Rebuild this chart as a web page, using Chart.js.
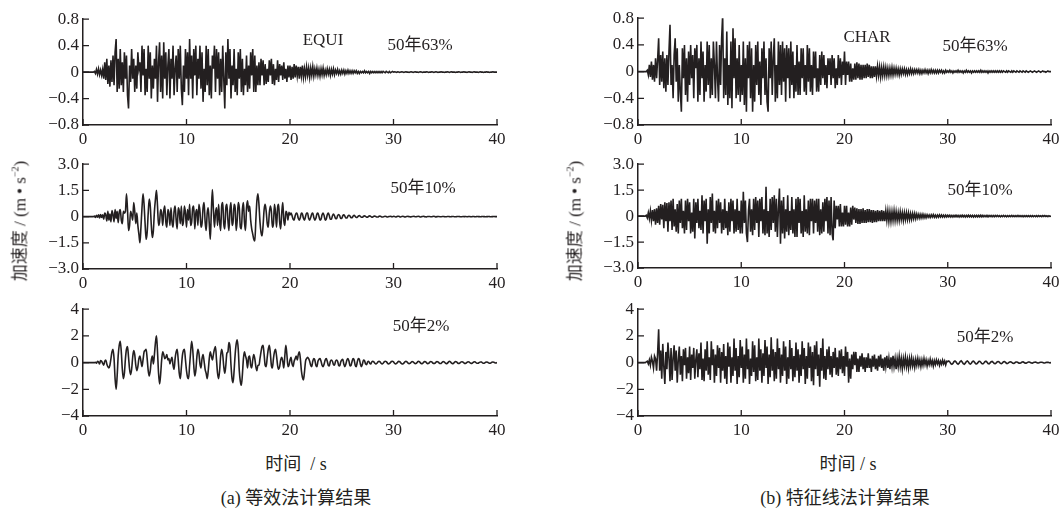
<!DOCTYPE html>
<html>
<head>
<meta charset="utf-8">
<script src="https://cdn.jsdelivr.net/npm/chart.js"></script>
<style>
  body {
    margin: 0;
    width: 1064px;
    height: 511px;
    position: relative;
    overflow: hidden;
    background: #fff;
    color: #231f20;
    font-family: "Liberation Serif", "Noto Sans CJK SC", serif;
  }
  canvas {
    position: absolute;
  }
  .txt {
    position: absolute;
    font-size: 17px;
    white-space: nowrap;
    transform: translate(-50%, -50%);
  }
  .big {
    font-size: 18px;
  }
  .ytitle {
    position: absolute;
    font-size: 17px;
    white-space: nowrap;
    transform: translate(-50%, -50%) rotate(-90deg);
  }
  .ytitle sup {
    font-size: 10px;
  }
</style>
</head>
<body>
<canvas id="c0"></canvas>
<canvas id="c1"></canvas>
<canvas id="c2"></canvas>
<canvas id="c3"></canvas>
<canvas id="c4"></canvas>
<canvas id="c5"></canvas>

<div class="txt" style="left:323px;top:40px">EQUI</div>
<div class="txt" style="left:420px;top:42px">50年63%</div>
<div class="txt" style="left:423px;top:185px">50年10%</div>
<div class="txt" style="left:421px;top:323px">50年2%</div>
<div class="txt" style="left:867px;top:37px">CHAR</div>
<div class="txt" style="left:975px;top:43px">50年63%</div>
<div class="txt" style="left:980px;top:187px">50年10%</div>
<div class="txt" style="left:985px;top:334px">50年2%</div>

<div class="ytitle" style="left:18px;top:221px">加速度 / (m • s<sup>−2</sup>)</div>
<div class="ytitle" style="left:573px;top:221px">加速度 / (m • s<sup>−2</sup>)</div>
<div class="txt big" style="left:296px;top:462px">时间&nbsp;&nbsp;/ s</div>
<div class="txt big" style="left:848px;top:462px">时间 / s</div>
<div class="txt big" style="left:296px;top:496px">(a) 等效法计算结果</div>
<div class="txt big" style="left:845px;top:496px">(b) 特征线法计算结果</div>

<script>
// sampling step of the records (s)
const DT = 0.1;
const xTicks = [0, 10, 20, 30, 40];
const yTicks63 = [-0.8, -0.4, 0, 0.4, 0.8];
const yTicks10 = [-3, -1.5, 0, 1.5, 3];
const yTicks2 = [-4, -2, 0, 2, 4];

// (a) equivalent method, 50 years 63%
const equi63 = [
  0,0,0,0,0,0,0,0,0,0,
  0,.01,-.02,.04,-.03,.05,-.04,.03,-.05,.04,
  -.1,.15,-.12,.2,-.18,.1,-.22,.18,-.15,.25,
  -.2,.3,.5,-.3,.2,-.25,.35,-.2,.15,-.3,
  .3,-.1,.25,-.35,-.55,.1,-.15,.35,-.1,.2,
  -.3,.1,-.25,.3,.05,.15,-.3,.4,-.05,.35,
  -.35,.05,-.3,.4,-.1,.3,-.4,.1,-.25,.2,
  -.1,.4,-.45,.15,.45,-.3,.25,-.4,.45,-.1,
  .3,-.35,.1,.35,-.4,.2,-.1,.4,-.35,.05,
  .25,-.3,.35,-.1,.4,-.25,-.5,.1,-.3,.35,
  -.1,.3,-.35,.5,-.1,.25,-.4,.35,-.05,.4,
  -.35,.2,-.1,.4,-.25,.3,-.45,.05,-.3,.4,
  -.2,.35,-.35,.1,-.4,.25,.05,.4,-.3,.35,
  -.1,.3,-.35,.2,-.3,.4,-.1,-.55,.3,-.2,
  .5,-.1,.35,-.4,.1,-.2,.35,-.3,.05,-.35,
  .3,-.1,.35,-.3,.2,-.35,.05,-.2,.25,-.3,
  .1,-.25,.3,-.05,.35,-.3,.25,-.3,.1,-.2,
  .15,-.2,.2,-.05,.18,-.2,.12,-.18,.05,-.15,
  .18,-.05,.2,-.18,.12,-.2,.05,-.12,.18,-.15,
  .12,-.05,.1,-.12,.15,-.1,.05,-.15,.1,-.08,
  .1,-.12,.08,-.1,.12,-.08,.1,-.06,.08,-.1,
  .08,-.06,.1,-.08,.05,-.07,.08,-.05,.06,-.08,
  .06,-.05,.08,-.06,.05,-.04,.06,-.05,.04,-.06,
  .05,-.04,.06,-.05,.03,-.04,.05,-.03,.04,-.05,
  .04,-.03,.05,-.04,.03,-.02,.04,-.03,.02,-.03,
  .03,-.02,.03,-.03,.02,-.02,.03,-.02,.02,-.02,
  .02,-.02,.02,-.01,.02,-.02,.01,-.02,.01,-.01,
  .01,-.01,.02,-.01,.01,-.01,.01,-.02,.01,-.01,
  .01,-.01,.01,-.01,.01,-.01,.01,-.01,.01,-.01,
  .01,0,-.01,.01,0,-.01,.01,-.01,0,.01,
  0,.005,0,-.005,.005,0,-.005,0,.005,0,
  -.005,0,.005,0,0,-.005,0,.005,0,-.005,
  0,.005,0,0,-.005,0,.005,0,-.005,0,
  0,0,.005,0,-.005,0,0,.005,0,-.005,
  0,.005,0,-.005,0,0,.005,0,0,-.005,
  0,0,.005,0,-.005,0,.005,0,0,0,
  -.005,0,0,.005,0,-.005,0,0,.005,0,
  0,-.005,0,.005,0,0,-.005,0,.005,0,
  0,0,-.005,0,.005,0,0,-.005,0,0,
  .005,0,0,-.005,0,0,.005,0,0,0,
  0
];

// (a) equivalent method, 50 years 10%
const equi10 = [
  0,0,0,0,0,0,0,0,0,0,
  0,.03,-.05,.08,-.04,.1,-.08,.12,-.05,.1,
  -.15,.2,.1,-.25,.3,-.2,.15,-.3,.35,.1,
  -.3,.4,-.1,.3,-.35,.25,.4,-.2,-.4,.3,
  .2,.3,1.3,.4,-.8,-.5,.3,.1,-.2,.8,
  .3,-.4,.2,-.5,-1.0,-1.5,-.6,.5,1.3,.7,
  -.4,-1.3,-.9,.2,1.0,.6,-.5,-1.2,-.8,.3,
  1.0,1.5,.6,-.5,-.3,.4,.2,-.5,.3,.6,
  -.3,-.6,.4,.2,-.5,.5,-.3,-.6,.3,.6,
  -.2,-.7,.5,.3,-.4,.6,-.5,-.3,.6,.2,
  -.6,.4,-.2,.7,-.5,-.3,.5,.6,-.7,.2,
  .4,-.5,.7,.3,-.6,-.4,.5,.8,-.3,-.8,
  .2,.5,-.4,-1.3,.3,1.55,.4,-.6,.2,.5,
  -.5,.7,-.3,-.8,.6,.8,-.4,-.7,.5,.7,
  -.2,-.8,.4,.8,-.5,-.3,.7,.5,-.8,-.2,
  .8,.5,-.6,-.7,.4,.8,-.3,-.8,.5,.9,
  .3,.6,-.2,-.7,-1.0,-1.3,-1.4,-.2,.9,1.3,
  .7,-.3,-.9,-1.1,-.5,.4,.7,.3,-.4,-.6,
  .2,.6,.3,-.6,-.4,.7,.2,-.6,.5,.7,
  -.3,-.7,.2,.8,-.2,-.5,.3,.2,-.2,.25,
  .1,.2,.05,-.15,-.2,.05,.2,.15,-.1,-.2,
  -.05,.2,.15,-.1,-.2,0,.2,.2,-.1,-.2,
  -.05,.15,.2,-.05,-.2,-.1,.15,.2,0,-.2,
  -.15,.1,.2,.05,-.2,-.15,.1,.2,.05,-.15,
  -.15,.05,.15,.05,-.1,-.12,.05,.12,.05,-.1,
  -.1,.05,.1,.03,-.08,-.08,.04,.08,.03,-.06,
  -.06,.03,.07,.02,-.05,-.05,.03,.06,.01,-.04,
  -.04,.02,.04,.01,-.03,-.03,.02,.04,.01,-.03,
  -.02,.02,.03,0,-.02,-.02,.02,.03,0,-.02,
  -.02,.01,.02,0,-.02,-.01,.01,.02,0,-.01,
  .02,.01,-.02,-.01,.02,.02,-.01,-.02,.01,.02,
  0,-.02,-.01,.01,.02,0,-.01,-.02,.01,.01,
  .02,-.01,-.01,.01,.02,0,-.02,-.01,.01,.02,
  0,-.01,-.02,.01,.01,.01,-.01,-.01,.01,.02,
  0,-.02,0,.01,.01,-.01,-.01,.01,.01,0,
  -.01,-.01,.01,.01,0,-.01,0,.01,.01,-.01,
  -.01,0,.01,.01,0,-.01,-.01,.01,0,0,
  .01,-.01,0,.01,0,-.01,0,.01,0,-.01,
  0,.01,0,0,-.01,0,.01,0,0,-.01,
  0,0,.01,0,-.01,0,0,.01,0,0,
  0
];

// (a) equivalent method, 50 years 2%
const equi2 = [
  0,0,0,0,0,0,0,0,0,0,
  0,0,.02,-.05,.1,.05,-.1,.15,.1,-.05,
  -.2,.1,.2,-.1,-.3,-.4,-.2,.3,.8,1.0,
  .3,-1.2,-2.0,-1.0,.5,1.3,1.6,.8,-.5,-1.2,
  -.8,.3,1.0,1.2,.4,-.5,-.9,-.5,.4,.9,
  .6,-.2,-.6,-.3,.3,.5,.1,-.3,.2,.8,
  .9,1.0,.3,-.6,-1.0,-.6,.2,.5,-.1,.6,
  1.5,2.0,.8,-.8,-1.6,-.9,.2,.8,.6,.3,
  .4,.6,.2,.3,-.1,.2,.4,-.2,-.5,.3,
  .8,1.0,.2,-.8,-1.2,-.4,.5,.9,1.0,.2,
  -.6,-1.1,-1.2,-.2,.8,1.6,1.0,-.2,-1.0,-.6,
  .4,1.0,.7,-.1,-.4,.3,.6,.1,-.5,-.8,
  -1.2,-.6,.3,.8,.5,.2,.6,1.0,1.2,.2,
  -.8,-1.2,-.6,.5,1.0,.6,-.3,-.8,-.2,.7,
  .8,1.5,1.2,-.2,-1.2,-1.5,-.6,.6,1.4,1.7,
  1.0,-.6,-1.4,-1.7,-.9,.3,.8,.5,.2,-.4,
  .4,.5,-.2,-.4,.2,.6,.3,-.3,-.6,-.2,
  -.2,.3,.8,1.2,1.3,.6,-.2,-.3,.4,1.0,
  1.3,.7,-.2,-.4,.3,.8,1.0,.5,-.2,-.5,
  -.3,.2,.4,.1,-.4,.5,1.3,.6,-.3,-.2,
  .2,.4,-.1,-.3,.1,.3,.5,.2,.6,.8,
  .3,-.6,-1.1,-1.3,-.7,.1,.3,.4,.3,.1,
  -.2,-.3,.1,.3,.2,-.2,-.3,.1,.25,.3,
  .1,-.2,-.3,-.1,.2,.3,.1,-.2,-.25,.1,
  .2,.1,-.15,-.2,.1,.2,.1,-.2,-.25,.05,
  .2,.25,-.1,-.3,-.1,.2,.3,.1,-.25,-.2,
  .1,.3,.2,-.2,-.3,.05,.3,.25,-.1,-.3,
  -.1,.2,.15,-.1,-.15,.05,.1,-.05,-.1,.05,
  .1,.05,-.05,-.1,-.05,.05,.1,.05,-.05,-.1,
  -.05,.05,.1,.08,-.02,-.1,-.08,0,.08,.1,
  .05,-.05,-.1,-.06,.03,.1,.08,-.02,-.08,-.1,
  -.04,.05,.1,.06,-.03,-.08,-.06,.02,.08,.06,
  -.02,-.08,-.06,.03,.1,.07,-.02,-.08,-.07,.02,
  .08,.07,-.02,-.08,-.06,.03,.08,.05,-.03,-.07,
  -.05,.03,.08,.06,-.02,-.07,-.06,.02,.07,.05,
  -.03,-.08,-.05,.03,.1,.06,-.03,-.08,-.05,.03,
  .07,.05,-.03,-.07,-.04,.03,.06,.04,-.02,-.06,
  -.05,.02,.06,.05,-.02,-.06,-.05,.02,.06,.04,
  -.02,-.05,-.04,.02,.05,.04,-.02,-.05,-.03,.02,
  .05,.03,-.02,-.05,-.03,.02,.04,.03,-.01,-.03,
  0
];

// (b) characteristic line method, 50 years 63%
const char63 = [
  0,0,0,0,0,0,0,0,0,.02,
  -.05,.1,-.08,.15,-.12,.1,-.15,.2,-.1,.18,
  .5,-.2,.25,-.15,.3,-.25,.2,-.3,.25,-.2,
  .3,.7,-.2,.1,-.4,.25,.5,-.15,.35,-.45,
  .1,-.3,-.6,.35,-.1,.4,-.35,.2,-.45,.3,
  -.2,.4,-.1,.25,-.4,.35,.05,.4,-.45,.2,
  -.35,.45,-.1,.3,-.45,.1,-.3,.45,-.2,.4,
  -.4,.2,-.35,.45,.1,-.4,.45,-.1,-.45,.4,
  -.2,.5,.85,-.4,.2,-.35,.6,-.5,.1,-.4,
  .45,-.55,.65,-.1,.5,-.4,.2,-.35,.4,-.45,
  .1,-.35,.45,-.5,.2,-.6,.4,-.1,.45,-.4,
  .35,-.6,.1,-.45,.4,-.2,.45,-.35,.15,-.5,
  .35,-.1,.45,-.35,.2,-.45,-.6,.35,-.1,.45,
  -.35,.2,.5,-.45,.1,-.4,.45,-.2,.4,-.35,
  .45,-.15,.35,-.45,.4,-.1,.35,-.4,.45,-.2,
  .3,-.4,.1,-.3,.4,-.35,.15,-.35,.35,-.1,
  .35,-.3,.1,-.35,.4,-.15,.35,-.3,.1,-.35,
  .3,-.1,.3,-.3,.05,-.3,.25,-.2,.3,-.1,
  .25,-.2,.1,-.25,.2,-.05,.2,-.2,.25,-.1,
  .2,-.25,.05,-.2,.25,-.1,.2,-.2,.15,-.05,
  .3,-.2,.15,-.05,.15,-.15,.12,-.15,.05,-.12,
  .12,-.12,.14,-.1,.12,-.12,.1,-.12,.1,-.1,
  .1,-.1,.12,-.08,.1,-.1,.08,-.1,.08,-.08,
  .08,-.07,.08,-.06,.07,-.08,.06,-.06,.07,-.06,
  .06,-.06,.05,-.06,.05,-.05,.06,-.05,.05,-.04,
  .05,-.04,.04,-.05,.04,-.04,.04,-.03,.04,-.04,
  .03,-.04,.03,-.03,.04,-.03,.03,-.03,.03,-.02,
  .03,-.02,.03,-.03,.02,-.03,.02,-.02,.03,-.02,
  .02,-.03,.02,-.02,.03,-.02,.02,-.02,.02,-.02,
  .02,-.02,.02,-.01,.02,-.02,.01,-.02,.02,-.01,
  .01,-.01,.02,-.01,.01,-.02,.01,-.01,.01,-.01,
  .02,-.01,.01,-.01,.01,-.02,.01,-.01,.02,-.01,
  .01,-.01,.01,-.02,.01,-.01,.01,-.01,.01,-.01,
  .01,-.01,.02,-.01,.01,-.01,.01,-.01,.01,-.02,
  .01,-.01,.01,-.01,.01,-.01,.01,-.01,.01,-.01,
  .01,-.01,.01,-.01,.01,0,-.01,.01,-.01,.01,
  0,-.01,.01,-.01,.01,0,-.01,.01,0,-.01,
  .01,0,-.01,.01,0,-.01,.01,0,-.01,0,
  .01,0,-.01,0,.01,0,-.01,0,.01,0,
  -.01,0,.01,0,0,-.01,0,.01,0,0,
  0
];

// (b) characteristic line method, 50 years 10%
const char10 = [
  0,0,0,0,0,0,0,0,.05,-.1,
  .2,-.15,.3,-.25,.35,-.3,.4,-.5,.45,-.4,
  .6,-.5,.7,-.2,.65,-.7,.8,-.3,.75,-.9,
  .8,-.3,.9,-.8,1.0,-.6,.4,-.9,.7,-1.0,
  .9,-.4,1.0,-.7,.3,-1.0,.9,-.8,1.0,-.3,
  .8,-1.0,.2,-.9,1.0,-1.3,.8,-.4,1.0,-.7,
  .3,-.8,1.2,-1.0,.9,-.3,1.0,-1.6,.4,-1.0,
  1.1,-.4,1.3,-.9,.3,-1.0,.9,-.7,1.0,-.4,
  .8,-1.0,.4,-.8,1.0,-.7,.3,-1.1,.8,-.9,
  1.0,-.3,.9,-1.0,.4,-.9,1.0,-.8,.3,-1.0,
  .9,-1.0,1.4,-.4,.9,-1.0,-1.5,.3,1.0,-.9,
  .4,-1.1,1.0,-.8,1.1,-.4,.9,-1.2,1.0,-.3,
  1.1,-1.0,.4,-1.1,1.7,-1.0,.3,-1.2,1.0,-.8,
  1.1,-.4,1.2,-.9,1.0,-1.2,.4,1.6,-1.6,.9,
  -1.0,1.1,-1.3,.4,-.9,1.2,-1.1,.3,-.8,1.1,
  -1.0,.4,-1.2,1.0,-1.2,1.1,-.4,1.0,-1.0,.3,
  -1.2,1.2,-.9,.4,-1.0,.9,-1.1,1.0,-.3,1.0,
  -1.0,.9,-.4,1.0,-.9,1.0,-1.1,.4,-1.0,.8,
  -.9,1.0,-.3,1.1,-1.0,.9,-1.1,1.1,-1.0,-1.4,
  .9,-.7,.6,-.2,.6,-.6,.7,-.6,.2,-.6,
  .6,-.5,.6,-.6,.2,-.6,.5,-.5,.6,-.2,
  .5,-.4,.45,-.45,.4,-.45,.4,-.4,.45,-.4,
  .35,-.4,.4,-.35,.4,-.35,.35,-.4,.35,-.35,
  .3,-.35,.35,-.3,.3,-.3,.35,-.3,.3,-.3,
  .3,-.25,.3,-.3,.25,-.3,.25,-.25,.3,-.25,
  .25,-.25,.2,-.25,.25,-.2,.2,-.25,.2,-.2,
  .2,-.2,.18,-.2,.15,-.18,.15,-.15,.15,-.15,
  .12,-.12,.1,-.12,.1,-.1,.1,-.1,.08,-.1,
  .08,-.07,.06,-.08,.07,-.06,.08,-.07,.06,-.07,
  .06,-.06,.07,-.05,.06,-.06,.05,-.06,.05,-.05,
  .05,-.04,.05,-.05,.04,-.05,.04,-.04,.05,-.04,
  .04,-.05,.04,-.04,.05,-.04,.04,-.05,.04,-.04,
  .05,-.04,.04,-.04,.04,-.05,.04,-.04,.04,-.04,
  .04,-.04,.05,-.04,.04,-.04,.03,-.04,.04,-.04,
  .04,-.03,.04,-.04,.03,-.04,.04,-.03,.04,-.03,
  .03,-.04,.03,-.03,.04,-.03,.03,-.04,.03,-.03,
  .03,-.03,.04,-.03,.03,-.03,.03,-.03,.04,-.03,
  .03,-.03,.03,-.04,.03,-.03,.03,-.03,.03,-.03,
  .03,-.03,.03,-.03,.02,-.03,.03,-.03,.03,-.02,
  .02,-.03,.03,-.02,.03,-.02,.02,-.03,.02,-.02,
  0
];

// (b) characteristic line method, 50 years 2%
const char2 = [
  0,0,0,0,0,0,0,0,.05,.1,
  -.1,.2,-.2,.4,.1,-.4,.5,.3,-.6,.7,
  2.5,-.6,.9,-1.2,1.4,-.3,-1.6,.8,-.5,1.5,
  .4,-1.4,1.1,-1.3,.3,1.3,-.6,.9,-1.5,.2,
  1.2,-.9,.5,-1.4,1.0,-.2,1.1,-1.2,.4,-.8,
  1.2,-1.3,.6,-.4,1.1,-1.2,.2,1.0,-1.1,.7,
  -.5,1.5,-1.3,.3,-1.4,1.0,-.6,1.6,-.9,.4,
  -1.3,1.6,-.2,1.0,-1.5,.6,-1.0,1.3,-.4,1.1,
  -1.5,.8,-.6,1.4,-1.2,.5,-1.6,1.5,-.3,1.2,
  -1.5,.4,-1.0,1.8,-.6,1.1,-1.6,.5,-1.1,1.7,
  -.4,1.2,-1.5,.6,-1.2,1.8,-.5,1.0,-1.6,.3,
  -1.0,1.6,-.7,1.3,-1.4,.4,-1.3,1.8,-.6,1.0,
  -1.5,.7,-1.0,1.7,-.4,1.2,-1.6,.6,-1.1,1.9,
  -.6,1.0,-1.4,.8,-1.2,1.8,-.5,1.1,-1.5,.6,
  -1.0,1.6,-.6,1.2,-1.6,.4,-1.2,1.7,-.5,1.1,
  -1.4,.5,-1.1,1.5,-.6,1.0,-1.5,.6,-1.0,1.6,
  -.5,1.1,-1.6,.5,-1.2,1.5,-.4,1.2,-1.4,.8,
  -1.7,1.3,-.5,1.6,-1.0,.6,-1.8,1.1,-.6,1.8,
  -1.2,.5,-1.3,1.0,-.5,1.2,-.9,.5,-1.1,.8,
  -.4,1.1,-.9,.4,-1.0,.9,-.5,1.0,-.8,.5,
  -1.0,1.2,-.3,.8,-1.5,.3,-1.2,.6,-.5,.8,
  -.2,.8,-.7,.3,-.7,.5,-.3,.7,-.5,.4,
  -.7,.4,-.4,.7,-.4,.3,-.7,.5,-.3,.6,
  -.5,.3,-.6,.5,-.3,.6,-.4,.3,-.6,.4,
  -.3,.5,-.4,.3,-.5,.4,-.3,.5,-.3,.3,
  -.5,.3,-.3,.45,-.3,.3,-.45,.3,-.25,.4,
  -.3,.25,-.4,.3,-.25,.35,-.25,.2,-.35,.25,
  -.2,.3,-.2,.2,-.3,.2,-.2,.3,-.15,.2,
  -.25,.15,-.15,.25,-.15,.15,-.25,.15,-.15,.2,
  -.1,.15,-.2,.1,-.12,.18,-.1,.12,-.18,.1,
  .08,.12,.05,-.08,-.13,-.06,.07,.12,.06,-.07,
  -.12,-.05,.08,.13,.04,-.08,-.12,-.04,.08,.12,
  .05,-.08,-.11,-.03,.09,.11,.03,-.09,-.1,-.02,
  .08,.1,.03,-.08,-.1,-.03,.07,.1,.04,-.07,
  -.09,-.02,.07,.09,.02,-.07,-.08,-.02,.06,.08,
  .03,-.06,-.08,-.02,.06,.08,.02,-.06,-.07,-.01,
  .05,.06,.02,-.05,-.06,-.01,.05,.05,.01,-.04,
  -.05,-.01,.04,.05,.01,-.04,-.04,0,.04,.04,
  .01,-.03,-.04,0,.03,.04,.01,-.03,-.03,0,
  .03,.03,0,-.03,-.03,0,.02,.03,0,-.02,
  0
];

const INK = '#231f20';
const FONT = "'Liberation Serif', 'Times New Roman', serif";
const Y_AXIS_W = 70, PAD_TOP = 10, PAD_RIGHT = 14, X_AXIS_H = 30;

// ticks in the original point inward, so draw them after the chart
const innerTicks = {
  id: 'innerTicks',
  afterDraw(chart) {
    const { ctx, chartArea: a, scales: { x, y } } = chart;
    ctx.save();
    ctx.strokeStyle = INK;
    ctx.lineWidth = 1.3;
    ctx.beginPath();
    x.ticks.forEach(t => {
      const px = x.getPixelForValue(t.value);
      ctx.moveTo(px, a.bottom);
      ctx.lineTo(px, a.bottom - 6);
    });
    y.ticks.forEach(t => {
      const py = y.getPixelForValue(t.value);
      ctx.moveTo(a.left, py);
      ctx.lineTo(a.left + 6, py);
    });
    ctx.stroke();
    ctx.restore();
  }
};

function yLabel(v, dec) {
  if (v === 0) return '0';
  return (v < 0 ? '\u2212' : '') + Math.abs(v).toFixed(dec);
}

const panels = [
  { id: 'c0', left: 83, top: 15, w: 414, h: 110, values: equi63, yt: yTicks63, dec: 1, smooth: false },
  { id: 'c1', left: 83, top: 160, w: 414, h: 109, values: equi10, yt: yTicks10, dec: 1, smooth: true },
  { id: 'c2', left: 83, top: 305, w: 414, h: 111, values: equi2, yt: yTicks2, dec: 0, smooth: true },
  { id: 'c3', left: 638, top: 14, w: 413, h: 111, values: char63, yt: yTicks63, dec: 1, smooth: false },
  { id: 'c4', left: 638, top: 160, w: 413, h: 108, values: char10, yt: yTicks10, dec: 1, smooth: false },
  { id: 'c5', left: 638, top: 305, w: 413, h: 111, values: char2, yt: yTicks2, dec: 0, smooth: false }
];

panels.forEach(p => {
  const canvas = document.getElementById(p.id);
  canvas.width = Y_AXIS_W + p.w + PAD_RIGHT;
  canvas.height = PAD_TOP + p.h + X_AXIS_H;
  canvas.style.left = (p.left - Y_AXIS_W) + 'px';
  canvas.style.top = (p.top - PAD_TOP) + 'px';

  new Chart(canvas.getContext('2d'), {
    type: 'line',
    data: {
      datasets: [{
        data: p.values.map((v, i) => ({ x: i * DT, y: v })),
        borderColor: INK,
        borderWidth: 1.6,
        pointRadius: 0,
        fill: false,
        cubicInterpolationMode: p.smooth ? 'monotone' : 'default',
        tension: 0
      }]
    },
    options: {
      responsive: false,
      animation: false,
      events: [],
      layout: { padding: { top: PAD_TOP, right: PAD_RIGHT, left: 0, bottom: 0 } },
      plugins: { legend: { display: false }, tooltip: { enabled: false } },
      scales: {
        x: {
          type: 'linear',
          min: 0,
          max: 40,
          afterBuildTicks: s => { s.ticks = xTicks.map(v => ({ value: v })); },
          afterFit: s => { s.height = X_AXIS_H; },
          grid: { display: false, drawTicks: false },
          border: { display: true, color: INK, width: 1.5 },
          ticks: {
            color: INK,
            padding: 4,
            autoSkip: false,
            maxRotation: 0,
            font: { family: FONT, size: 17 }
          }
        },
        y: {
          min: p.yt[0],
          max: p.yt[p.yt.length - 1],
          afterBuildTicks: s => { s.ticks = p.yt.map(v => ({ value: v })); },
          afterFit: s => { s.width = Y_AXIS_W; },
          grid: { display: false, drawTicks: false },
          border: { display: true, color: INK, width: 1.5 },
          ticks: {
            color: INK,
            padding: 4,
            autoSkip: false,
            font: { family: FONT, size: 17 },
            callback: v => yLabel(v, p.dec)
          }
        }
      }
    },
    plugins: [innerTicks]
  });
});
</script>
</body>
</html>
